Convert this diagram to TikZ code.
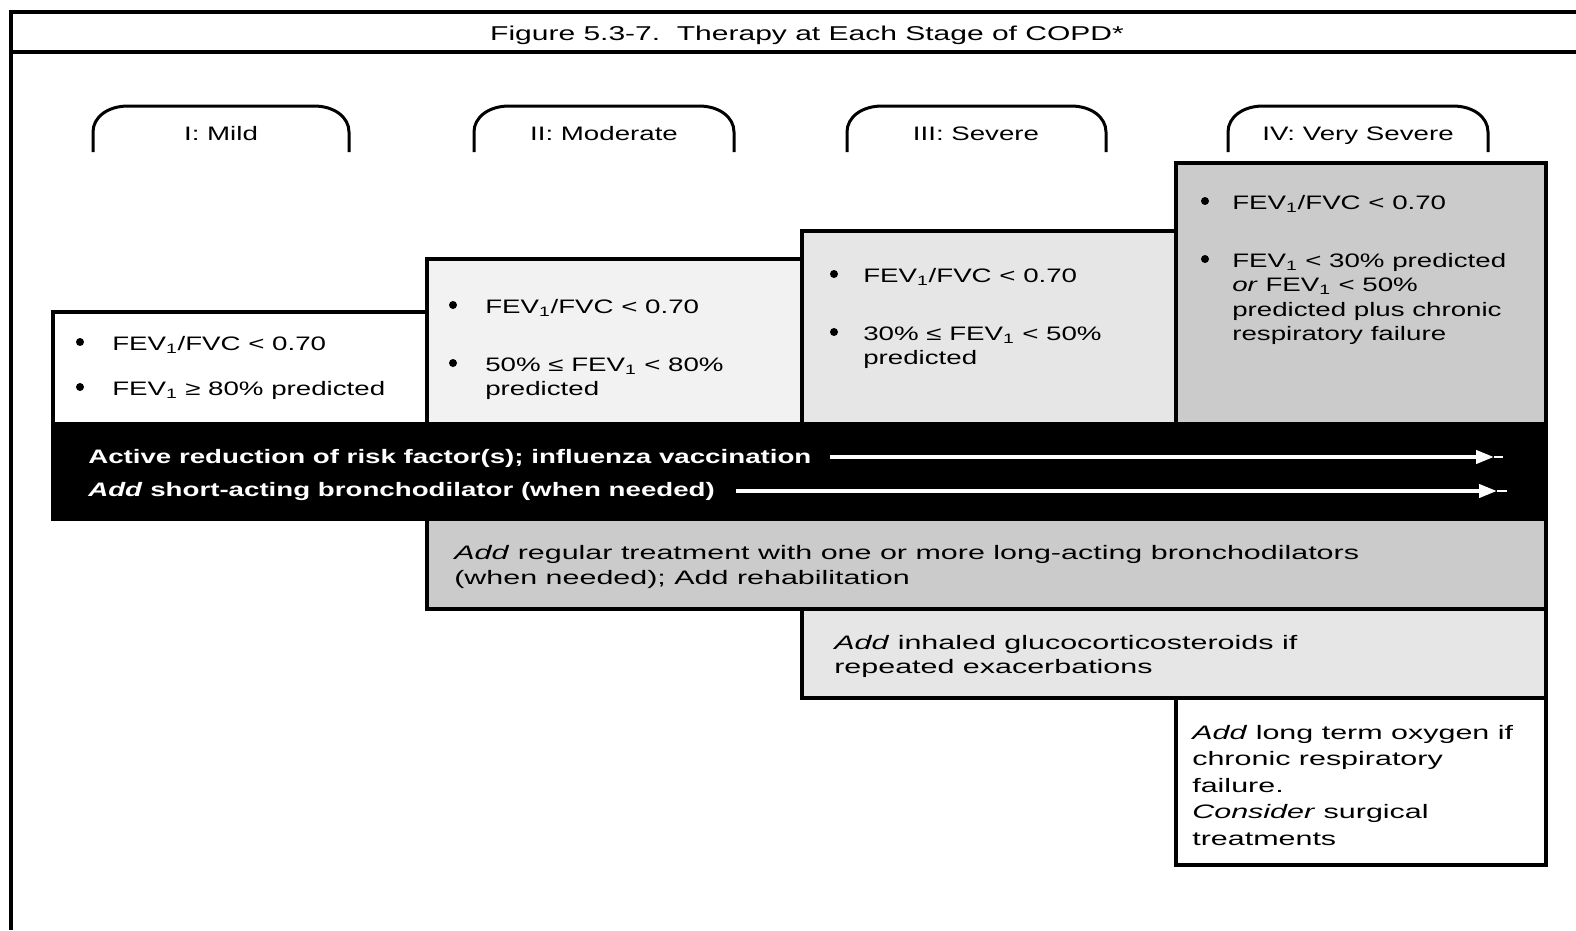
\documentclass[tikz,border=0pt]{standalone}
\usepackage{fontspec}
\setmainfont{Liberation Sans}
\usetikzlibrary{arrows.meta}
\definecolor{gA}{HTML}{F2F2F2}
\definecolor{gB}{HTML}{E6E6E6}
\definecolor{gC}{HTML}{CBCBCB}
\begin{document}
\begin{tikzpicture}[x=1pt,y=-1pt,
  txt/.style={inner sep=0pt, anchor=base west, align=left, xscale=1.42,
              font=\fontsize{19.5}{24.5}\selectfont},
  widetxt/.style={txt, xscale=1.1},
  tablabel/.style={inner sep=0pt, anchor=base, xscale=1.42,
              font=\fontsize{19.5}{24.5}\selectfont},
  bandtxt/.style={txt, text=white, font=\fontsize{19.5}{24.5}\selectfont\bfseries},
  boxline/.style={draw=black, line width=3.5pt},
  frameline/.style={draw=black, line width=3.5pt},
  tabline/.style={draw=black, line width=3pt},
  dot/.style={circle, fill=black, inner sep=0pt, minimum size=8pt},
  arrowline/.style={draw=white, line width=4pt, -{Triangle[length=18pt,width=13pt]}},
  stub/.style={draw=white, line width=2.5pt}
]
\useasboundingbox (0,0) rectangle (1576,930);
\fill[white] (0,0) rectangle (1576,930);

% frame
\draw[frameline] (11,930) -- (11,12) -- (1580,12);
\draw[frameline] (11,52) -- (1580,52);
\node[inner sep=0pt, anchor=base, xscale=1.5, font=\fontsize{20}{24}\selectfont] (title) at (807,40)
  {Figure 5.3-7.\ \ Therapy at Each Stage of COPD*};

% stage tabs
\foreach \l/\r in {93/349, 474/734, 847/1106, 1228/1488}{
  \draw[tabline] (\l,152) -- (\l,132) .. controls (\l,117) and ({\l+15},106) .. ({\l+35},106)
     -- ({\r-35},106) .. controls ({\r-15},106) and (\r,117) .. (\r,132) -- (\r,152);
}
\node[tablabel] (t1) at (221,140) {I: Mild};
\node[tablabel] (t2) at (604,140) {II: Moderate};
\node[tablabel] (t3) at (976,140) {III: Severe};
\node[tablabel] (t4) at (1358,140) {IV: Very Severe};

% stage boxes
\draw[boxline, fill=white] (53,312) rectangle (427,424);
\draw[boxline, fill=gA] (427,259) rectangle (802,424);
\draw[boxline, fill=gB] (802,231) rectangle (1176,424);
\draw[boxline, fill=gC] (1176,163) rectangle (1546,424);

% therapy boxes
\draw[boxline, fill=gC] (427,519) rectangle (1546,609);
\draw[boxline, fill=gB] (802,609) rectangle (1546,698);
\draw[boxline, fill=white] (1176,698) rectangle (1546,865);
\draw[boxline, fill=black] (53,424) rectangle (1546,519);

% stage I
\node[dot] (b11) at (80,342) {};
\node[txt] (s11) at (112,350) {FEV\textsubscript{1}/FVC < 0.70};
\node[dot] (b12) at (80,387) {};
\node[txt] (s12) at (112,395) {FEV\textsubscript{1} ≥ 80\% predicted};

% stage II
\node[dot] (b21) at (453,305) {};
\node[txt] (s21) at (485,313) {FEV\textsubscript{1}/FVC < 0.70};
\node[dot] (b22) at (453,363) {};
\node[txt] (s22) at (485,395.5) {50\% ≤ FEV\textsubscript{1} < 80\%\\predicted};

% stage III
\node[dot] (b31) at (834,274) {};
\node[txt] (s31) at (863,282) {FEV\textsubscript{1}/FVC < 0.70};
\node[dot] (b32) at (834,332) {};
\node[txt] (s32) at (863,364.5) {30\% ≤ FEV\textsubscript{1} < 50\%\\predicted};

% stage IV
\node[dot] (b41) at (1205,201) {};
\node[txt] (s41) at (1232,209) {FEV\textsubscript{1}/FVC < 0.70};
\node[dot] (b42) at (1205,259) {};
\node[txt] (s42) at (1232,340.5) {FEV\textsubscript{1} < 30\% predicted\\\textit{or} FEV\textsubscript{1} < 50\%\\predicted plus chronic\\respiratory failure};

% black band
\node[bandtxt] (r1) at (88,463) {Active reduction of risk factor(s); influenza vaccination};
\node[bandtxt] (r2) at (88,496) {\textit{Add} short-acting bronchodilator (when needed)};
\coordinate (a1s) at (830,457);
\coordinate (a1t) at (1494,457);
\coordinate (a1e) at (1503,457);
\coordinate (a2s) at (736,491);
\coordinate (a2t) at (1497,491);
\coordinate (a2e) at (1507,491);
\draw[stub] (a1t) -- (a1e);
\draw[stub] (a2t) -- (a2e);
\draw[arrowline] (a1s) -- (a1t);
\draw[arrowline] (a2s) -- (a2t);

% therapy texts
\node[widetxt] (l1) at (454,584) {\textit{Add} regular treatment with one or more long-acting bronchodilators\\(when needed); Add rehabilitation};
\node[widetxt] (i1) at (834,673.5) {\textit{Add} inhaled glucocorticosteroids if\\repeated exacerbations};
\node[widetxt, font=\fontsize{19.5}{26.5}\selectfont] (o1) at (1192,845) {\textit{Add} long term oxygen if\\chronic respiratory\\failure.\\\textit{Consider} surgical\\treatments};
\end{tikzpicture}
\end{document}
